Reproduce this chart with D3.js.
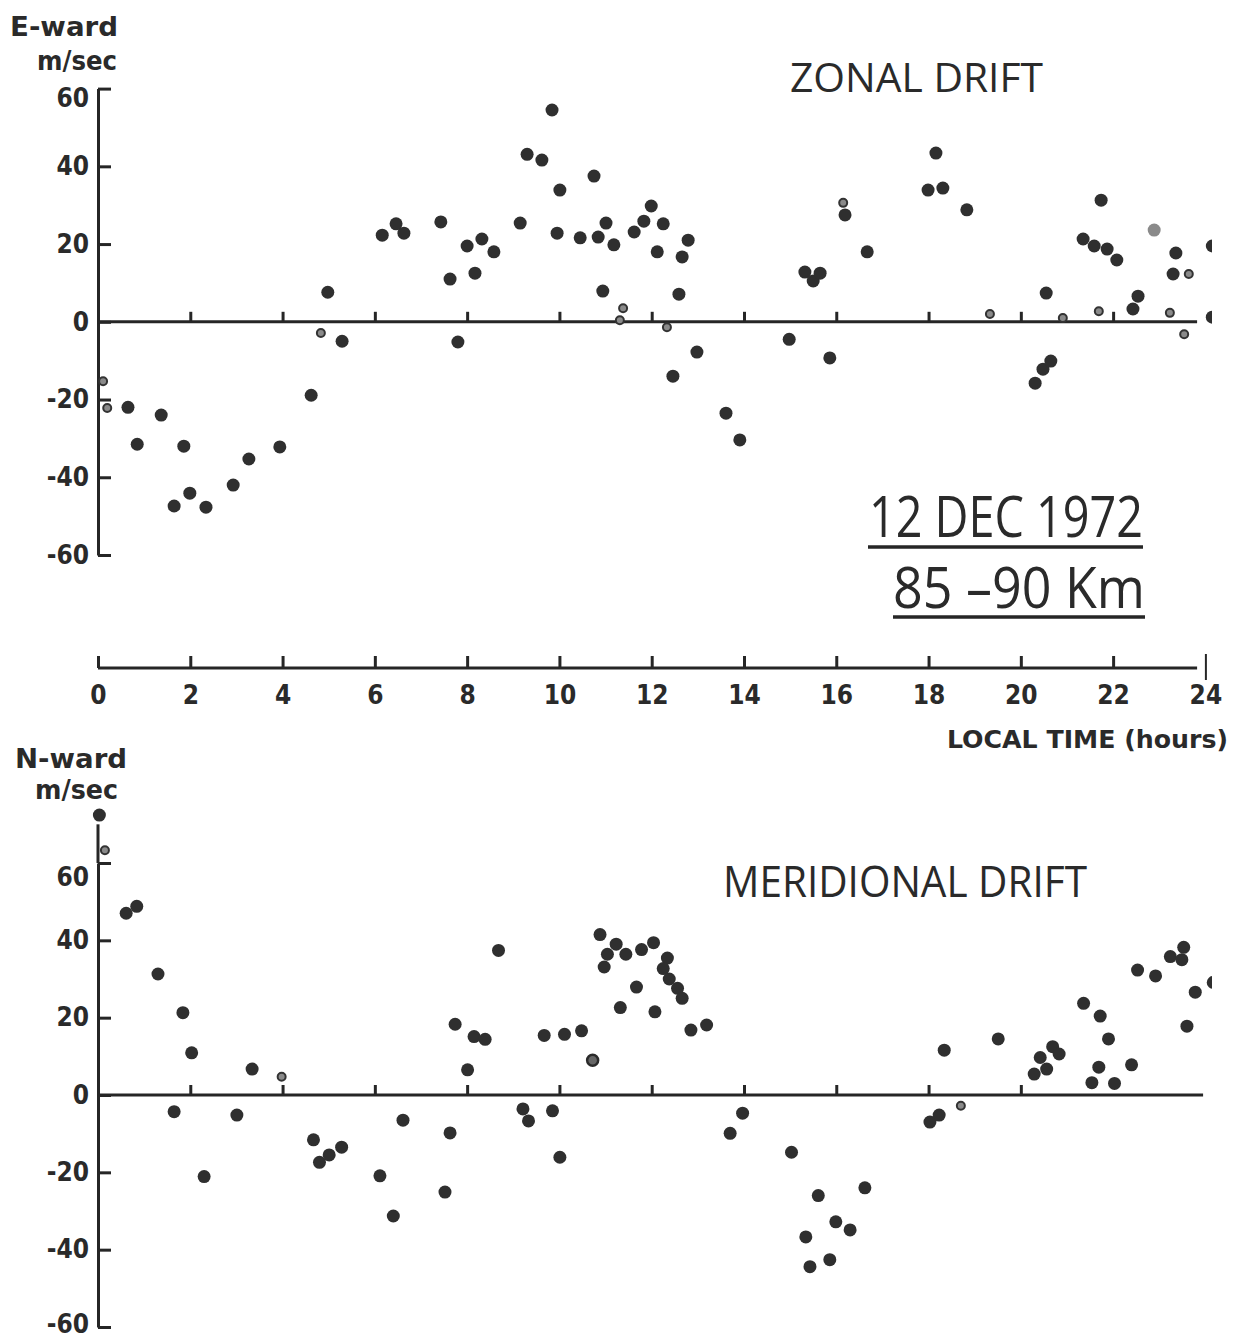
<!DOCTYPE html>
<html>
<head>
<meta charset="utf-8">
<script src="https://cdn.jsdelivr.net/npm/d3@7"></script>
<style>
  html, body { margin: 0; padding: 0; background: #fff; }
  svg { display: block; }
  .num { font-family: "DejaVu Sans Condensed", "DejaVu Sans", sans-serif; font-stretch: condensed; font-weight: bold; fill: #2a2a2a; }
  .title { font-family: "Open Sans", "DejaVu Sans", sans-serif; font-weight: 400; fill: #2a2a2a; }
</style>
</head>
<body>
<svg id="chart" width="1237" height="1340"></svg>
<script>
// Local time (hours) and drift speed (m/sec), 12 Dec 1972, 85-90 km.
// Filled dots, small open rings and one faint dot are kept as separate series.
const zonalDots = [
  [0.65,-22.0],[0.85,-31.5],[1.37,-24.0],[1.86,-32.0],[1.65,-47.4],[1.99,-44.1],
  [2.34,-47.7],[2.93,-42.0],[3.27,-35.3],[3.94,-32.2],[4.62,-18.9],[4.98,7.6],
  [5.29,-5.0],[6.16,22.3],[6.46,25.2],[6.63,22.8],[7.43,25.7],[7.63,11.0],
  [7.80,-5.2],[8.00,19.5],[8.17,12.5],[8.32,21.3],[8.58,18.0],[9.15,25.4],
  [9.30,43.1],[9.62,41.6],[9.84,54.5],[10.01,33.9],[9.95,22.8],[10.45,21.6],
  [10.75,37.5],[10.84,21.8],[10.94,7.9],[11.01,25.4],[11.18,19.8],[11.62,23.1],
  [11.83,25.9],[11.99,29.8],[12.25,25.2],[12.12,18.0],[12.79,21.0],[12.66,16.7],
  [12.59,7.1],[12.46,-14.0],[12.98,-7.8],[13.61,-23.5],[13.91,-30.4],[14.98,-4.5],
  [15.32,12.8],[15.50,10.5],[15.65,12.5],[15.86,-9.3],[16.19,27.5],[16.67,18.0],
  [17.99,33.9],[18.16,43.4],[18.31,34.4],[18.83,28.8],[20.31,-15.8],[20.48,-12.2],
  [20.65,-10.1],[20.55,7.4],[21.74,31.3],[21.35,21.3],[21.59,19.5],[21.87,18.7],
  [22.08,15.9],[22.43,3.3],[22.54,6.6],[23.36,17.7],[23.30,12.3],[24.15,19.5],
  [24.15,1.2]
];
const zonalRings = [
  [0.11,-15.3],[0.20,-22.2],[4.83,-2.9],[11.38,3.5],[11.31,0.4],[12.33,-1.4],
  [16.15,30.6],[19.33,2.0],[20.91,1.0],[21.69,2.7],[23.23,2.3],[23.64,12.3],
  [23.54,-3.2]
];
const zonalFaint = [[22.89,23.6]];

const meridDots = [
  [0.03,72.4],[0.61,47.0],[0.84,48.8],[1.30,31.3],[1.84,21.3],[2.03,10.9],
  [3.34,6.7],[1.65,-4.3],[3.01,-5.2],[6.61,-6.5],[2.30,-21.1],[4.67,-11.6],
  [4.80,-17.4],[5.01,-15.5],[5.28,-13.5],[6.11,-20.9],[6.40,-31.3],[7.52,-25.1],
  [7.63,-9.8],[7.74,18.3],[8.01,6.5],[8.15,15.1],[8.39,14.4],[8.68,37.4],
  [9.21,-3.6],[9.33,-6.7],[9.85,-4.1],[10.01,-16.1],[9.67,15.4],[10.11,15.7],
  [10.48,16.6],[10.88,41.5],[11.04,36.4],[10.97,33.1],[11.23,39.0],[11.44,36.4],
  [11.32,22.6],[11.67,27.9],[11.78,37.6],[12.04,39.4],[12.07,21.5],[12.34,35.4],
  [12.25,32.7],[12.38,30.0],[12.56,27.6],[12.66,25.0],[12.85,16.8],[13.19,18.1],
  [13.70,-9.9],[13.97,-4.7],[15.03,-14.8],[15.61,-26.0],[15.34,-36.7],[15.43,-44.4],
  [15.86,-42.6],[15.99,-32.8],[16.30,-34.9],[16.62,-24.0],[18.03,-7.0],[18.23,-5.2],
  [18.34,11.6],[19.51,14.5],[20.29,5.4],[20.42,9.7],[20.56,6.7],[20.69,12.5],
  [20.83,10.6],[21.36,23.7],[21.72,20.4],[21.90,14.5],[21.54,3.2],[21.69,7.2],
  [22.03,3.0],[22.40,7.8],[22.53,32.3],[22.92,30.8],[23.24,35.8],[23.49,35.0],
  [23.53,38.2],[23.78,26.6],[23.60,17.8],[24.17,29.1]
];
const meridRings = [[0.15,63.3],[3.98,4.7],[18.70,-2.8]];
const meridCentred = [[10.72,9.0]];

const speedTicks = [-60, -40, -20, 0, 20, 40, 60];
const hourTicks = [0, 2, 4, 6, 8, 10, 12, 14, 16, 18, 20, 22, 24];
const zonalZeroTicks = [2, 4, 6, 8, 10, 12, 14, 16, 18, 20, 22];
const meridZeroTicks = [2, 4, 6, 8, 10, 12, 14, 16, 18, 20];

const INK = "#262626";
const svg = d3.select("#chart");
svg.append("rect").attr("width", 1237).attr("height", 1340).attr("fill", "#fff");

const x = d3.scaleLinear().domain([0, 24]).range([98, 1205.4]);
const yTop = d3.scaleLinear().domain([-60, 60]).range([555, 88.6]);
const yBot = d3.scaleLinear().domain([-60, 60]).range([1327, 863]);

svg.append("clipPath").attr("id", "plotClip")
  .append("rect").attr("x", 0).attr("y", 0).attr("width", 1212).attr("height", 1340);

function styleAxis(g) {
  g.selectAll("path.domain").attr("stroke", INK).attr("stroke-width", 3);
  g.selectAll(".tick line").attr("stroke", INK).attr("stroke-width", 3);
  g.selectAll(".tick text").attr("class", "num").attr("font-size", 26).attr("fill", INK);
}

// labelShift: vertical nudges (px) for individual speed labels
function panel(y, zeroTicks, zeroEnd, dots, rings, faint, centred, labelShift) {
  // vertical speed axis: ticks to the right, labels to the left
  const ax = svg.append("g").attr("transform", `translate(${x(0)},0)`)
    .call(d3.axisLeft(y).tickValues(speedTicks).tickSizeInner(-13).tickSizeOuter(0)
      .tickPadding(9).tickFormat(d => String(d)));
  styleAxis(ax);
  ax.selectAll(".tick text").attr("y", d => labelShift[d] || 0);

  // zero line with small hour ticks pointing up
  const z = svg.append("g").attr("transform", `translate(0,${y(0)})`)
    .call(d3.axisTop(x).tickValues(zeroTicks).tickSize(10).tickFormat(""));
  z.select("path.domain").remove();
  styleAxis(z);
  svg.append("line").attr("x1", x(0)).attr("x2", x(zeroEnd))
    .attr("y1", y(0)).attr("y2", y(0)).attr("stroke", INK).attr("stroke-width", 3);

  const marks = svg.append("g").attr("clip-path", "url(#plotClip)");
  marks.selectAll("circle.dot").data(dots).join("circle").attr("class", "dot")
    .attr("cx", d => x(d[0])).attr("cy", d => y(d[1])).attr("r", 6.5).attr("fill", "#2f2f2f");
  marks.selectAll("circle.faint").data(faint).join("circle").attr("class", "faint")
    .attr("cx", d => x(d[0])).attr("cy", d => y(d[1])).attr("r", 6.5).attr("fill", "#8a8a8a");
  marks.selectAll("circle.centred").data(centred).join("circle").attr("class", "centred")
    .attr("cx", d => x(d[0])).attr("cy", d => y(d[1])).attr("r", 5.5)
    .attr("fill", "#666").attr("stroke", "#2a2a2a").attr("stroke-width", 2.5);
  marks.selectAll("circle.ring").data(rings).join("circle").attr("class", "ring")
    .attr("cx", d => x(d[0])).attr("cy", d => y(d[1])).attr("r", 4)
    .attr("fill", "#8a8a8a").attr("stroke", "#333").attr("stroke-width", 2);
}

panel(yTop, zonalZeroTicks, 23.82, zonalDots, zonalRings, zonalFaint, [], {60: 10});
panel(yBot, meridZeroTicks, 23.95, meridDots, meridRings, [], meridCentred, {60: 14, "-60": -3});

// meridional axis continues above the 60 mark
svg.append("line").attr("x1", x(0)).attr("x2", x(0))
  .attr("y1", yBot(60)).attr("y2", yBot(70)).attr("stroke", INK).attr("stroke-width", 3);

// stand-alone local time axis between the panels
const tAxis = svg.append("g").attr("transform", "translate(0,668)")
  .call(d3.axisBottom(x).tickValues(hourTicks).tickSizeInner(-12).tickSizeOuter(0)
    .tickPadding(18).tickFormat(d => String(d)));
tAxis.select("path.domain").remove();
styleAxis(tAxis);
tAxis.selectAll(".tick").filter(d => d === 24).select("line")
  .attr("y1", 12).attr("y2", -14).attr("stroke-width", 2);
svg.append("line").attr("x1", x(0)).attr("x2", x(23.82)).attr("y1", 668).attr("y2", 668)
  .attr("stroke", INK).attr("stroke-width", 3);

function label(txt, xp, yp, size, anchor, cls, len, weight) {
  const t = svg.append("text").attr("class", cls).attr("x", xp).attr("y", yp)
    .attr("font-size", size).attr("text-anchor", anchor).text(txt);
  if (len) t.attr("textLength", len).attr("lengthAdjust", "spacingAndGlyphs");
  if (weight) t.attr("font-weight", weight);
  return t;
}

label("E-ward", 10, 36, 27, "start", "num", 108);
label("m/sec", 37, 70, 27, "start", "num", 80);
label("N-ward", 15, 768, 27, "start", "num", 112);
label("m/sec", 35, 799, 27, "start", "num", 83);
label("LOCAL TIME (hours)", 947, 748, 25, "start", "num", 281);

label("ZONAL DRIFT", 790, 92, 41, "start", "title", 253);
label("MERIDIONAL DRIFT", 723, 897, 43, "start", "title", 364);
label("12 DEC 1972", 869, 537, 56, "start", "title", 274, 500);
label("85 \u201390 Km", 893, 608, 56, "start", "title", 252, 500);
svg.append("line").attr("x1", 868).attr("x2", 1143).attr("y1", 547).attr("y2", 547)
  .attr("stroke", INK).attr("stroke-width", 3.5);
svg.append("line").attr("x1", 893).attr("x2", 1145).attr("y1", 617).attr("y2", 617)
  .attr("stroke", INK).attr("stroke-width", 3.5);
</script>
</body>
</html>
